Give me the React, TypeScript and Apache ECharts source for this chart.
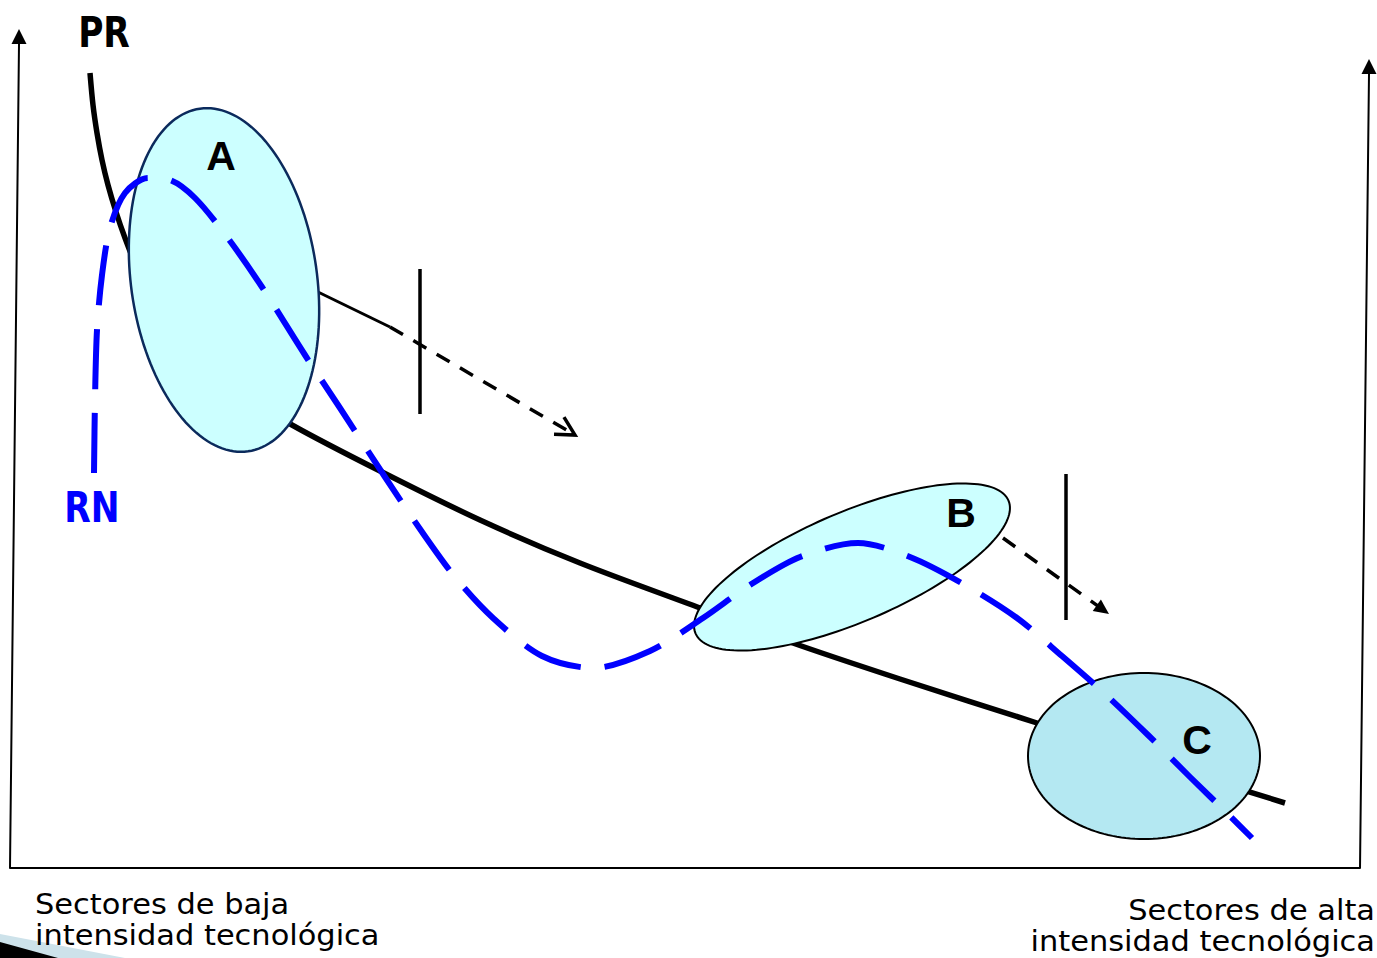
import React, { useEffect, useRef } from "react";
import * as echarts from "echarts";

const W = 1377;
const H = 958;

// PR curve (black, solid)
const prCurve: number[][] = [
  [90, 73], [93, 105], [97, 133], [102, 160], [108, 185], [116, 212], [125, 238], [135, 263],
  [155, 303], [200, 358], [250, 398], [292, 425], [380, 471], [480, 520], [580, 563],
  [700, 608], [790, 642], [900, 679], [1037, 723], [1160, 764], [1285, 803],
];

// RN curve (blue, dashed)
const rnCurve: number[][] = [
  [94, 473], [95, 400], [97, 330], [102, 275], [110, 228], [125, 193], [148, 178], [170, 180],
  [195, 198], [227, 237], [262, 287], [305, 355], [340, 408], [385, 477], [420, 529],
  [455, 577], [493, 618], [542, 656], [593, 668], [650, 651], [703, 618], [750, 585],
  [800, 557], [858, 543], [910, 557], [965, 585], [1017, 618], [1062, 656], [1103, 692],
  [1148, 735], [1190, 777], [1230, 816], [1252, 838],
];

// Regions (ellipses)
const regionNames = ["A", "B", "C"];
const regionCenters = [[224, 280], [852, 567], [1144, 756]];
const regionRadii = [[93, 173], [170, 55], [116, 83]];
const regionAngles = [-8, -23, 0];
const regionFills = ["#ccffff", "#ccffff", "#b4e8f2"];
const regionStrokes = ["#0b2a5c", "#000000", "#000000"];
const regionLabelPoints = [[221, 156], [961, 513], [1197, 740]];

// Curve labels
const curveNames = ["PR", "RN"];
const curveLabelPoints = [[104, 32], [92, 507]];
const curveLabelColors = ["#000000", "#0000ff"];

// Frame (axes)
const frame: number[][] = [[19, 44], [10, 868], [1360, 868], [1369, 74]];
const frameArrows = [[19, 44, 19, 29], [1369, 74, 1369, 59]];

// Shift arrows, connector and barriers
const connector: number[][] = [[318, 292], [390, 327]];
const shiftArrows = [[390, 327, 575, 435], [1003, 538, 1109, 614]];
const arrowHeadKinds = ["open", "solid"];
const barriers = [[[420, 269], [420, 414]], [[1066, 474], [1066, 620]]];

// Captions
const leftCaption = ["Sectores de baja", "intensidad tecnológica"];
const rightCaption = ["Sectores de alta", "intensidad tecnológica"];

function lineSeries(data: number[][], color: string, width: number, type: any, z: number, smooth: number | boolean = false) {
  return {
    type: "line",
    data,
    z,
    symbol: "none",
    smooth,
    silent: true,
    lineStyle: { color, width, type, cap: "butt", join: "round" },
  };
}

function buildOption() {
  const series: any[] = [];

  series.push(lineSeries(prCurve, "#000000", 5.5, "solid", 1, 0.3));
  series.push(lineSeries(connector, "#000000", 3, "solid", 1));

  series.push({
    type: "custom",
    z: 2,
    silent: true,
    encode: { x: 0, y: 1 },
    data: regionCenters.map((c, i) => [c[0], c[1], regionRadii[i][0], regionRadii[i][1], regionAngles[i]]),
    renderItem: (params: any, api: any) => {
      const cx = api.value(0), cy = api.value(1), rx = api.value(2), ry = api.value(3);
      const ang = (api.value(4) * Math.PI) / 180;
      const i = params.dataIndex;
      const pts: number[][] = [];
      const N = 160;
      for (let k = 0; k < N; k++) {
        const t = (k / N) * Math.PI * 2;
        const x = cx + rx * Math.cos(t) * Math.cos(ang) - ry * Math.sin(t) * Math.sin(ang);
        const y = cy + rx * Math.cos(t) * Math.sin(ang) + ry * Math.sin(t) * Math.cos(ang);
        pts.push(api.coord([x, y]));
      }
      return {
        type: "polygon",
        shape: { points: pts },
        style: { fill: regionFills[i], stroke: regionStrokes[i], lineWidth: i === 0 ? 2.5 : 2 },
      };
    },
  });

  series.push(lineSeries(rnCurve, "#0000ff", 6, [60, 24], 3, 0.3));

  series.push(lineSeries(frame, "#000000", 2, "solid", 3));

  shiftArrows.forEach((a) => {
    series.push(lineSeries([[a[0], a[1]], [a[2], a[3]]], "#000000", 3.5, [15, 12], 3));
  });
  barriers.forEach((b) => {
    series.push(lineSeries(b, "#000000", 3.5, "solid", 3));
  });

  // arrow heads for shift arrows
  series.push({
    type: "custom",
    z: 4,
    silent: true,
    encode: { x: [0, 2], y: [1, 3] },
    data: shiftArrows,
    renderItem: (params: any, api: any) => {
      const p0 = api.coord([api.value(0), api.value(1)]);
      const p1 = api.coord([api.value(2), api.value(3)]);
      const dx = p1[0] - p0[0], dy = p1[1] - p0[1];
      const len = Math.hypot(dx, dy);
      const ux = dx / len, uy = dy / len;
      const kind = arrowHeadKinds[params.dataIndex];
      if (kind === "open") {
        const L = 21, a = (28 * Math.PI) / 180;
        const rot = (s: number) => [
          p1[0] - L * (ux * Math.cos(s * a) - uy * Math.sin(s * a)),
          p1[1] - L * (uy * Math.cos(s * a) + ux * Math.sin(s * a)),
        ];
        return {
          type: "polyline",
          shape: { points: [rot(1), p1, rot(-1)] },
          style: { stroke: "#000000", lineWidth: 3.5, fill: null },
        };
      }
      const L = 15, hw = 7;
      const bx = p1[0] - ux * L, by = p1[1] - uy * L;
      return {
        type: "polygon",
        shape: { points: [p1, [bx - uy * hw, by + ux * hw], [bx + uy * hw, by - ux * hw]] },
        style: { fill: "#000000" },
      };
    },
  });

  // arrow heads for axes
  series.push({
    type: "custom",
    z: 4,
    silent: true,
    encode: { x: [0, 2], y: [1, 3] },
    data: frameArrows,
    renderItem: (params: any, api: any) => {
      const p0 = api.coord([api.value(0), api.value(1)]);
      const p1 = api.coord([api.value(2), api.value(3)]);
      const dx = p1[0] - p0[0], dy = p1[1] - p0[1];
      const len = Math.hypot(dx, dy);
      const ux = dx / len, uy = dy / len;
      const hw = 7.5;
      return {
        type: "polygon",
        shape: { points: [p1, [p0[0] - uy * hw, p0[1] + ux * hw], [p0[0] + uy * hw, p0[1] - ux * hw]] },
        style: { fill: "#000000" },
      };
    },
  });

  // region labels
  series.push({
    type: "custom",
    z: 5,
    silent: true,
    encode: { x: 0, y: 1 },
    data: regionLabelPoints,
    renderItem: (params: any, api: any) => {
      const p = api.coord([api.value(0), api.value(1)]);
      return {
        type: "text",
        x: p[0],
        y: p[1],
        style: {
          text: regionNames[params.dataIndex],
          fill: "#000000",
          font: 'bold 41px "Liberation Sans", Arial, sans-serif',
          align: "center",
          verticalAlign: "middle",
        },
      };
    },
  });

  // curve labels
  series.push({
    type: "custom",
    z: 5,
    silent: true,
    encode: { x: 0, y: 1 },
    data: curveLabelPoints,
    renderItem: (params: any, api: any) => {
      const p = api.coord([api.value(0), api.value(1)]);
      return {
        type: "text",
        x: p[0],
        y: p[1],
        scaleX: 0.89,
        style: {
          text: curveNames[params.dataIndex],
          fill: curveLabelColors[params.dataIndex],
          font: 'bold 43px "Liberation Sans Narrow", "DejaVu Sans Condensed", sans-serif',
          align: "center",
          verticalAlign: "middle",
        },
      };
    },
  });

  const captionFont = '29px "DejaVu Sans", Verdana, sans-serif';
  const captionLine = (text: string, x: number, y: number, align: string) => ({
    type: "text",
    z: 10,
    silent: true,
    x,
    y,
    scaleX: 1.05,
    style: { text, font: captionFont, fill: "#000000", align, verticalAlign: "middle" },
  });

  return {
    animation: false,
    backgroundColor: "#ffffff",
    grid: { left: 0, right: 0, top: 0, bottom: 0, containLabel: false },
    xAxis: { type: "value", min: 0, max: W, show: false },
    yAxis: { type: "value", min: 0, max: H, inverse: true, show: false },
    series,
    graphic: [
      {
        type: "polygon",
        z: 0,
        silent: true,
        shape: { points: [[0, 934], [125, 958], [0, 958]] },
        style: { fill: "#cde2ea" },
      },
      {
        type: "polygon",
        z: 1,
        silent: true,
        shape: { points: [[0, 942], [58, 958], [0, 958]] },
        style: { fill: "#000000" },
      },
      captionLine(leftCaption[0], 35, 904, "left"),
      captionLine(leftCaption[1], 35, 935, "left"),
      captionLine(rightCaption[0], 1375, 910, "right"),
      captionLine(rightCaption[1], 1375, 941, "right"),
    ],
  };
}

export default function App() {
  const ref = useRef<HTMLDivElement>(null);
  useEffect(() => {
    if (!ref.current) return;
    const chart = echarts.init(ref.current, null, { renderer: "svg" });
    chart.setOption(buildOption() as any);
    return () => chart.dispose();
  }, []);
  return <div ref={ref} style={{ position: "absolute", left: 0, top: 0, width: W, height: H }} />;
}
